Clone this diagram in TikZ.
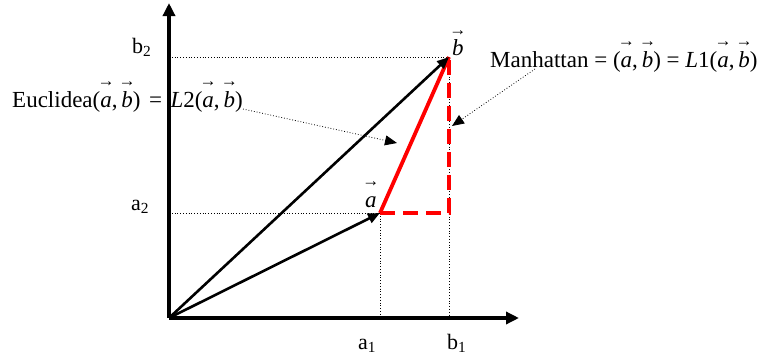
\documentclass[tikz,border=0pt]{standalone}
\usepackage{fontspec}
\setmainfont{Liberation Serif}
\usetikzlibrary{arrows.meta}
\newcommand\vv[1]{{\ooalign{\textit{#1}\cr\hidewidth\raisebox{0.88em}{\fontsize{17}{17}\selectfont →}\hidewidth\cr}}}
\begin{document}
\begin{tikzpicture}[x=1pt,y=-1pt,
  axis/.style={line width=3.6pt,-{Triangle[length=13pt,width=12pt]}},
  vecline/.style={line width=2.6pt,-{Triangle[length=12pt,width=10pt]}},
  guide/.style={line width=0.8pt,dotted},
  pointer/.style={line width=0.8pt,dotted,-{Triangle[length=12pt,width=10pt]}},
  redline/.style={red,line width=3.8pt},
  lbl/.style={inner sep=0pt,anchor=base west,font=\fontsize{22}{26}\selectfont},
  formula/.style={inner sep=0pt,anchor=base west,font=\fontsize{23}{27}\selectfont}]
\useasboundingbox (0,0) rectangle (769,356);
\coordinate (O) at (169,318);
\coordinate (a) at (380,213);
\coordinate (b) at (449,57);
\coordinate (xend) at (519,318);
\coordinate (yend) at (169,3);
\coordinate (a1) at (380,318);
\coordinate (b1) at (449,318);
\coordinate (a2) at (169,213);
\coordinate (b2) at (169,57);
\coordinate (ab) at (449,213);
% guides
\draw[guide] (b2) -- (b);
\draw[guide] (a2) -- (a);
\draw[guide] (a) -- (a1);
\draw[guide] (b) -- (b1);
% red
\draw[redline,dash pattern=on 15pt off 8pt] (a) -- (ab) -- (b);
\draw[redline] (a) -- (b);
% axes
\draw[axis] (O) -- (xend);
\draw[axis] (O) -- (yend);
% vectors
\draw[vecline] (O) -- (a);
\draw[vecline] (O) -- (b);
% labels
\node[lbl] (lb2) at (132,53) {b\textsubscript{2}};
\node[lbl] (la2) at (131,210) {a\textsubscript{2}};
\node[lbl] (la1) at (358,349) {a\textsubscript{1}};
\node[lbl] (lb1) at (447,349) {b\textsubscript{1}};
\node[formula] (va) at (365,207) {\vv{a}};
\node[formula] (vb) at (452,56) {\vv{b}};
\node[formula] (eu) at (12,107) {Euclidea(\vv{a},\,\vv{b})\hspace{0.12em} = \hspace{0.12em}\textit{L}2(\vv{a},\,\vv{b})};
\node[formula] (ma) at (490,67) {Manhattan = (\vv{a},\,\vv{b}) = \textit{L}1(\vv{a},\,\vv{b})};
\coordinate (eus) at (243,109);
\coordinate (eut) at (397,143);
\coordinate (mas) at (535,69);
\coordinate (mat) at (452,126);
\draw[pointer] (eus) -- (eut);
\draw[pointer] (mas) -- (mat);
\end{tikzpicture}
\end{document}
